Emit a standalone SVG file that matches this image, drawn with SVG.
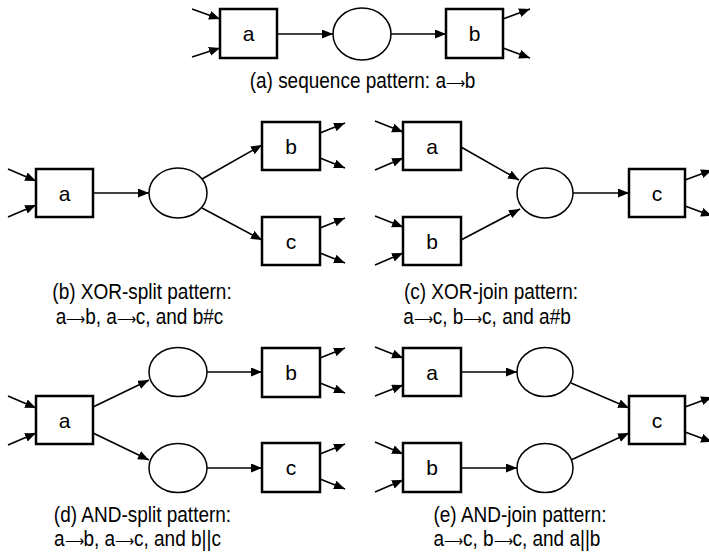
<svg xmlns="http://www.w3.org/2000/svg" width="709" height="552" viewBox="0 0 709 552">
<defs>
<marker id="ah" markerUnits="userSpaceOnUse" markerWidth="12" markerHeight="10" refX="11" refY="4.5" orient="auto">
<path d="M0,0 L11,4.5 L0,9 z" fill="#000"/>
</marker>
<style>
.box{fill:#fff;stroke:#000;stroke-width:2.5}
.pl{fill:#fff;stroke:#000;stroke-width:1.5}
.e{stroke:#000;stroke-width:1.6;fill:none;marker-end:url(#ah)}
.lb{font-family:"Liberation Sans",Arial,sans-serif;font-size:21px;text-anchor:middle;fill:#000}
.cap{font-family:"Liberation Sans",Arial,sans-serif;font-size:19px;text-anchor:middle;fill:#000}
.ar{font-size:13px}
</style>
</defs>
<rect width="709" height="552" fill="#fff"/>

<g id="connectors">
<!-- (a) -->
<line class="e" x1="192" y1="9" x2="220" y2="19"/>
<line class="e" x1="192" y1="57" x2="220" y2="48"/>
<line class="e" x1="277" y1="34" x2="333" y2="34"/>
<line class="e" x1="391" y1="34" x2="446" y2="34"/>
<line class="e" x1="503" y1="19" x2="530" y2="9"/>
<line class="e" x1="503" y1="48" x2="530" y2="58"/>
<!-- (b) -->
<line class="e" x1="8" y1="169" x2="36" y2="181"/>
<line class="e" x1="8" y1="217" x2="36" y2="205"/>
<line class="e" x1="93" y1="193" x2="149" y2="193"/>
<line class="e" x1="202" y1="179" x2="262" y2="145"/>
<line class="e" x1="202" y1="208" x2="262" y2="240"/>
<line class="e" x1="320" y1="133" x2="345" y2="123"/>
<line class="e" x1="320" y1="158" x2="345" y2="168"/>
<line class="e" x1="320" y1="228" x2="345" y2="218"/>
<line class="e" x1="320" y1="253" x2="345" y2="263"/>
<!-- (c) -->
<line class="e" x1="375" y1="121" x2="403" y2="132"/>
<line class="e" x1="375" y1="170" x2="403" y2="158"/>
<line class="e" x1="375" y1="216" x2="403" y2="227"/>
<line class="e" x1="375" y1="265" x2="403" y2="253"/>
<line class="e" x1="461" y1="147" x2="519" y2="180"/>
<line class="e" x1="461" y1="240" x2="520" y2="209"/>
<line class="e" x1="573" y1="193" x2="629" y2="193"/>
<line class="e" x1="685" y1="180" x2="712" y2="170"/>
<line class="e" x1="685" y1="206" x2="712" y2="216"/>
<!-- (d) -->
<line class="e" x1="8" y1="396" x2="36" y2="408"/>
<line class="e" x1="8" y1="445" x2="36" y2="433"/>
<line class="e" x1="93" y1="407" x2="149" y2="380"/>
<line class="e" x1="93" y1="433" x2="149" y2="460"/>
<line class="e" x1="207" y1="372" x2="262" y2="372"/>
<line class="e" x1="207" y1="468" x2="262" y2="468"/>
<line class="e" x1="320" y1="358" x2="345" y2="348"/>
<line class="e" x1="320" y1="383" x2="345" y2="393"/>
<line class="e" x1="320" y1="454" x2="345" y2="444"/>
<line class="e" x1="320" y1="479" x2="345" y2="489"/>
<!-- (e) -->
<line class="e" x1="375" y1="347" x2="403" y2="358"/>
<line class="e" x1="375" y1="396" x2="403" y2="385"/>
<line class="e" x1="375" y1="442" x2="403" y2="454"/>
<line class="e" x1="375" y1="492" x2="403" y2="480"/>
<line class="e" x1="461" y1="372" x2="517" y2="372"/>
<line class="e" x1="461" y1="468" x2="517" y2="468"/>
<line class="e" x1="571" y1="383" x2="629" y2="408"/>
<line class="e" x1="571" y1="460" x2="629" y2="433"/>
<line class="e" x1="685" y1="407" x2="712" y2="397"/>
<line class="e" x1="685" y1="432" x2="712" y2="442"/>
</g>

<!-- (a) sequence -->
<g id="a1"><rect class="box" x="220" y="9" width="57" height="49"/><text class="lb" x="248.5" y="41">a</text></g>
<g id="p1"><ellipse class="pl" cx="362" cy="34" rx="29" ry="26"/></g>
<g id="b1"><rect class="box" x="446" y="9" width="57" height="49"/><text class="lb" x="474.5" y="41">b</text></g>
<text class="cap" transform="translate(362.5,88) scale(1,1.12)">(a) sequence pattern: a<tspan class="ar">⟶</tspan>b</text>

<!-- (b) XOR-split -->
<g id="a2"><rect class="box" x="36" y="169" width="57" height="48"/><text class="lb" x="64.5" y="200.5">a</text></g>
<g id="p2"><ellipse class="pl" cx="178" cy="193" rx="29" ry="25"/></g>
<g id="b2"><rect class="box" x="262" y="122" width="58" height="48"/><text class="lb" x="291" y="153.5">b</text></g>
<g id="c2"><rect class="box" x="262" y="217" width="58" height="48"/><text class="lb" x="291" y="248.5">c</text></g>
<text class="cap" transform="translate(142,299) scale(1,1.12)">(b) XOR-split pattern:</text>
<text class="cap" transform="translate(139.5,324) scale(1,1.12)">a<tspan class="ar">⟶</tspan>b, a<tspan class="ar">⟶</tspan>c, and b#c</text>

<!-- (c) XOR-join -->
<g id="a3"><rect class="box" x="403" y="122" width="58" height="48"/><text class="lb" x="432" y="153.5">a</text></g>
<g id="b3"><rect class="box" x="403" y="217" width="58" height="48"/><text class="lb" x="432" y="248.5">b</text></g>
<g id="p3"><ellipse class="pl" cx="545" cy="193" rx="28" ry="25"/></g>
<g id="c3"><rect class="box" x="629" y="169" width="56" height="48"/><text class="lb" x="657" y="200.5">c</text></g>
<text class="cap" transform="translate(491,299) scale(1,1.12)">(c) XOR-join pattern:</text>
<text class="cap" transform="translate(487,324) scale(1,1.12)">a<tspan class="ar">⟶</tspan>c, b<tspan class="ar">⟶</tspan>c, and a#b</text>

<!-- (d) AND-split -->
<g id="a4"><rect class="box" x="36" y="396" width="57" height="48"/><text class="lb" x="64.5" y="427.5">a</text></g>
<g id="p4a"><ellipse class="pl" cx="178" cy="372" rx="29" ry="24.5"/></g>
<g id="p4b"><ellipse class="pl" cx="178" cy="468" rx="29" ry="24.5"/></g>
<g id="b4"><rect class="box" x="262" y="348" width="58" height="49"/><text class="lb" x="291" y="379.5">b</text></g>
<g id="c4"><rect class="box" x="262" y="443" width="58" height="49"/><text class="lb" x="291" y="475">c</text></g>
<text class="cap" transform="translate(142.5,522) scale(1,1.12)">(d) AND-split pattern:</text>
<text class="cap" transform="translate(137.5,546) scale(1,1.12)">a<tspan class="ar">⟶</tspan>b, a<tspan class="ar">⟶</tspan>c, and b||c</text>

<!-- (e) AND-join -->
<g id="a5"><rect class="box" x="403" y="348" width="58" height="48"/><text class="lb" x="432" y="379.5">a</text></g>
<g id="b5"><rect class="box" x="403" y="443" width="58" height="49"/><text class="lb" x="432" y="475">b</text></g>
<g id="p5a"><ellipse class="pl" cx="545" cy="372" rx="28" ry="24.5"/></g>
<g id="p5b"><ellipse class="pl" cx="545" cy="468" rx="28" ry="24.5"/></g>
<g id="c5"><rect class="box" x="629" y="396" width="56" height="48"/><text class="lb" x="657" y="427.5">c</text></g>
<text class="cap" transform="translate(520,522) scale(1,1.12)">(e) AND-join pattern:</text>
<text class="cap" transform="translate(517,546) scale(1,1.12)">a<tspan class="ar">⟶</tspan>c, b<tspan class="ar">⟶</tspan>c, and a||b</text>
</svg>
